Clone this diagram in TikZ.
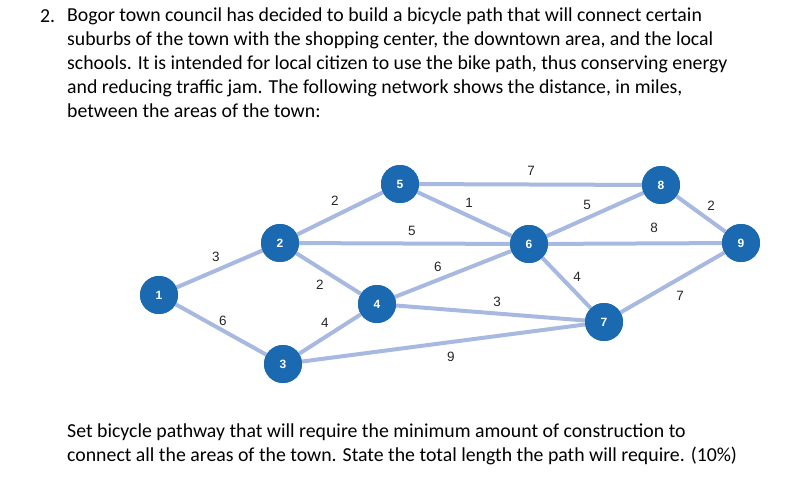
\documentclass[tikz,border=0pt]{standalone}
\usepackage{fontspec}
\setmainfont{Carlito}
\newfontfamily\lab{Liberation Sans}
\definecolor{nodeblue}{HTML}{1B69B1}
\definecolor{edgeblue}{HTML}{A7B9E0}
\begin{document}
\begin{tikzpicture}[x=1pt,y=-1pt,
  vtx/.style={circle,fill=nodeblue,minimum size=38pt,inner sep=0pt,text=white,font=\lab\bfseries\fontsize{12}{12}\selectfont},
  edge/.style={edgeblue,line width=4pt},
  wt/.style={font=\lab\fontsize{13.5}{14}\selectfont,text=black!85},
  txt/.style={anchor=west,font=\fontsize{19.8}{22}\selectfont,inner sep=0pt}]
\useasboundingbox (0,0) rectangle (812,483);
\node[txt] (n2) at (40,16) {2.};
\node[txt] (t1) at (67,16) {Bogor town council has decided to build a bicycle path that will connect certain};
\node[txt] (t2) at (67,40) {suburbs of the town with the shopping center, the downtown area, and the local};
\node[txt] (t3) at (67,64) {schools. It is intended for local citizen to use the bike path, thus conserving energy};
\node[txt] (t4) at (67,88) {and reducing traffic jam. The following network shows the distance, in miles,};
\node[txt] (t5) at (67,111) {between the areas of the town:};
\node[txt] (b1) at (67,432) {Set bicycle pathway that will require the minimum amount of construction to};
\node[txt] (b2) at (67,456) {connect all the areas of the town. State the total length the path will require. (10\%)};

\node[vtx] (v1) at (159,295) {1};
\node[vtx] (v2) at (280,243) {2};
\node[vtx] (v3) at (283,364) {3};
\node[vtx] (v4) at (377,304) {4};
\node[vtx] (v5) at (400,184) {5};
\node[vtx] (v6) at (529,244) {6};
\node[vtx] (v7) at (604,322) {7};
\node[vtx] (v8) at (661,185) {8};
\node[vtx] (v9) at (741,243) {9};
\foreach \a/\b in {1/2,1/3,2/5,2/6,2/4,3/4,3/7,5/8,5/6,4/6,4/7,6/8,6/9,6/7,7/9,8/9}
  \draw[edge] (v\a) -- (v\b);
\foreach \a in {1,...,9} \node[vtx] (u\a) at (v\a) {\a};
\node[wt] (w12) at (216,257) {3};
\node[wt] (w13) at (223,321) {6};
\node[wt] (w25) at (335,201) {2};
\node[wt] (w26) at (412,231) {5};
\node[wt] (w24) at (320,285) {2};
\node[wt] (w34) at (325,323) {4};
\node[wt] (w46) at (438,267) {6};
\node[wt] (w47) at (497,302) {3};
\node[wt] (w37) at (451,357) {9};
\node[wt] (w56) at (469,203) {1};
\node[wt] (w58) at (531,171) {7};
\node[wt] (w68) at (587,205) {5};
\node[wt] (w67) at (577,277) {4};
\node[wt] (w69) at (654,228) {8};
\node[wt] (w89) at (711,206) {2};
\node[wt] (w79) at (680,296) {7};
\end{tikzpicture}
\end{document}
